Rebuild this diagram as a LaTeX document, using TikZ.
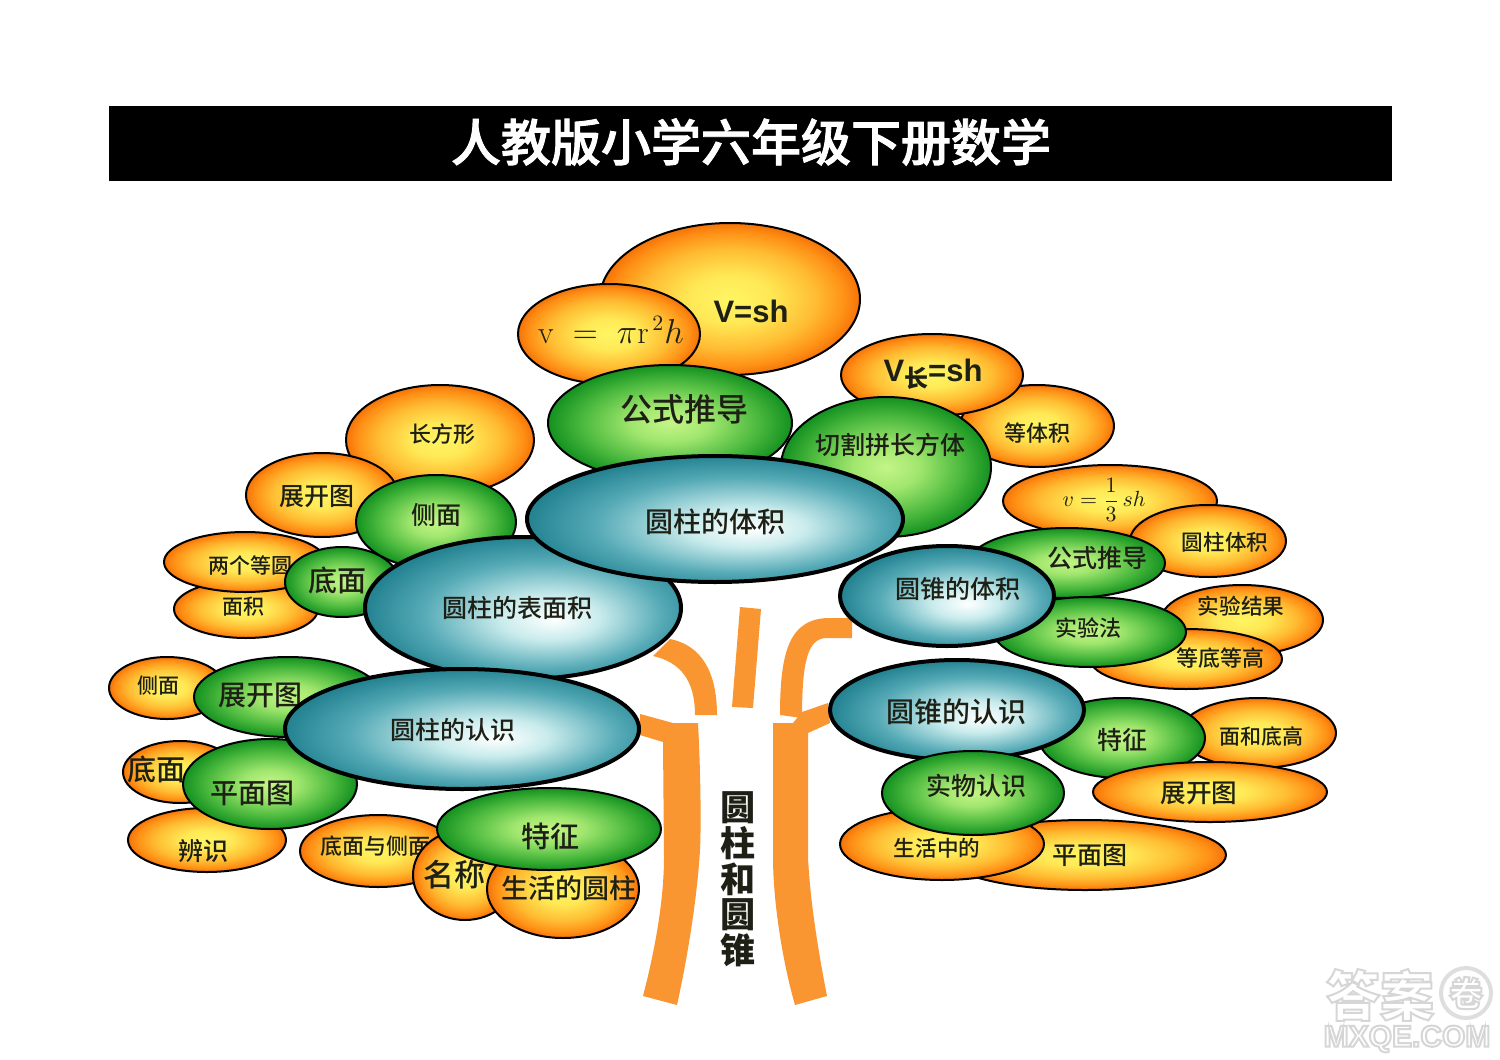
\documentclass[tikz,border=0pt]{standalone}
\usepackage{fontspec}
\usetikzlibrary{shapes.geometric,shadings}
\newfontfamily\cjk{Noto Sans CJK SC Medium}
\newfontfamily\cjkb{Noto Sans CJK SC}
\newfontfamily\lat{Liberation Sans}
\definecolor{grnA}{RGB}{196,245,135}
\definecolor{grnB}{RGB}{160,230,110}
\definecolor{grnC}{RGB}{75,185,62}
\definecolor{grnD}{RGB}{20,145,32}
\definecolor{tealA}{RGB}{200,235,236}
\definecolor{tealB}{RGB}{85,170,182}
\definecolor{tealC}{RGB}{25,122,137}
\definecolor{orgA}{RGB}{255,245,100}
\definecolor{orgB}{RGB}{255,232,85}
\definecolor{orgC}{RGB}{255,188,50}
\definecolor{orgD}{RGB}{255,145,22}
\definecolor{orgE}{RGB}{245,115,8}
\definecolor{trunk}{RGB}{250,150,50}
\definecolor{ink}{RGB}{30,32,22}
\definecolor{wmline}{RGB}{222,222,222}
\pgfdeclareradialshading{orangeball}{\pgfpoint{0bp}{0bp}}{color(0bp)=(orgA); color(8bp)=(orgB); color(16.5bp)=(orgC); color(22bp)=(orgD); color(25bp)=(orgE); color(50bp)=(orgE)}
\pgfdeclareradialshading{greenball}{\pgfpoint{0bp}{0bp}}{color(0bp)=(grnA); color(8bp)=(grnB); color(18bp)=(grnC); color(25bp)=(grnD); color(50bp)=(grnD)}
\pgfdeclareradialshading{tealball}{\pgfpoint{5bp}{-4bp}}{color(0bp)=(white); color(8bp)=(tealA); color(19bp)=(tealB); color(29bp)=(tealC); color(50bp)=(tealC)}
\tikzset{
  leafbase/.style={ellipse,inner sep=0pt,outer sep=0pt,draw=black},
  orangeleaf/.style={leafbase,shading=orangeball,line width=1pt},
  greenleaf/.style={leafbase,shading=greenball,line width=1pt},
  tealleaf/.style={leafbase,shading=tealball,line width=2pt},
  leaflabel/.style={inner sep=0pt,text=ink,font=\cjk},
  trunkfill/.style={fill=trunk,draw=none},
  wmark/.style={inner sep=0pt,text=white,font=\cjkb\bfseries}
}
% name, cx, cy, rx, ry, style, lx, ly, size(pt), text
\newcommand{\leafnode}[9]{\node[#6leaf,minimum width=#4pt,minimum height=#5pt] (#1) at (#2,#3) {};\leaftextb{#1}{#7}{#8}{#9}}
\newcommand{\leaftextb}[5]{\node[leaflabel] (#1t) at (#2,#3) {\fontsize{#4}{#4}\selectfont #5};}
\newcommand{\wmtext}[5]{\node[wmark] (#1) at (#2,#3) {\fontsize{#4}{#4}\selectfont\special{pdf:code 2 Tr 1 w 0.84 0.84 0.84 RG}#5\special{pdf:code 0 Tr}};}
\begin{document}
\begin{tikzpicture}[x=0.5pt,y=-0.5pt]
\useasboundingbox (0,0) rectangle (1500,1060);
\fill[white] (0,0) rectangle (1500,1060);
% title bar
\node[fill=black,minimum width=641.5pt,minimum height=37.5pt,inner sep=0pt,outer sep=0pt] (bar) at (750.5,143.5) {};
\node[inner sep=0pt,text=white,font=\cjk] (title) at (751,142) {\fontsize{25}{25}\selectfont\special{pdf:code 2 Tr 0.45 w 1 1 1 RG}人教版小学六年级下册数学\special{pdf:code 0 Tr}};
% trunk
\path[trunkfill] (673,723) -- (698,723) .. controls (701,780) and (701,830) .. (700,850) .. controls (697,900) and (687,960) .. (677,1005) -- (643,996) .. controls (655,950) and (664,900) .. (664,857) -- (663,742) -- (640,735) -- (640,714) -- cycle;
\path[trunkfill] (653,656) -- (670,639) .. controls (700,645) and (717,670) .. (717,715) -- (695,715) .. controls (695,680) and (680,662) .. (653,656) -- cycle;
\path[trunkfill] (740,607) -- (761,609) -- (753,708) -- (732,707) -- cycle;
\path[trunkfill] (852,618) -- (852,638) -- (825,638) .. controls (808,640) and (802,660) .. (802,718) -- (780,715) .. controls (780,650) and (790,618) .. (830,618) -- cycle;
\path[trunkfill] (773,723) -- (793,723) -- (802,712) -- (828,703) -- (830,723) -- (808,733) -- (808,857) .. controls (810,900) and (818,950) .. (827,996) -- (795,1005) .. controls (782,960) and (773,900) .. (773,857) -- cycle;
\node[inner sep=0pt,text=ink,font=\cjkb\bfseries,align=center] (stem) at (738,879) {\fontsize{17.5}{18}\selectfont 圆\\[0.4pt]\fontsize{17.5}{18}\selectfont 柱\\[0.4pt]\fontsize{17.5}{18}\selectfont 和\\[0.4pt]\fontsize{17.5}{18}\selectfont 圆\\[0.4pt]\fontsize{17.5}{18}\selectfont 锥};
% top
\leafnode{vsh}{730}{299}{130}{76}{orange}{751}{311}{15.5}{\lat\bfseries V=sh}
\leafnode{vpi}{609}{334}{91}{50}{orange}{611}{330}{16}{$\mathrm{v}\;=\;\pi\mathrm{r}^{\,2}h$}
\leafnode{gs}{670}{423}{122}{58}{green}{684}{409}{16}{公式推导}
% upper right
\leafnode{dtj}{1037}{426}{77}{41}{orange}{1037}{433}{11}{等体积}
\leafnode{vc}{932}{375}{91}{41}{orange}{933}{374}{15.5}{\lat\bfseries V\raisebox{-3pt}{\cjk\fontsize{12}{12}\selectfont 长}=sh}
\leafnode{qg}{886}{467}{105}{70}{green}{890}{445}{12.5}{切割拼长方体}
% upper left
\leafnode{cfx}{440}{440}{94}{55}{orange}{442}{434}{11}{长方形}
\leafnode{zk}{322}{495}{76}{42}{orange}{317}{497}{12.5}{展开图}
\leafnode{cm}{436}{522}{80}{47}{green}{436}{515}{12.5}{侧面}
\leafnode{mj}{246}{609}{72}{29}{orange}{243}{607}{10.5}{面积}
\leafnode{ld}{245}{562}{81}{30}{orange}{250}{565}{10.5}{两个等圆}
\leafnode{dm}{342}{582}{57}{35}{green}{337}{580}{14.5}{底面}
\leafnode{bmj}{523}{608}{158}{71}{teal}{517}{608}{12.5}{圆柱的表面积}
% lower left
\leafnode{lcm}{167}{688}{58}{31}{orange}{158}{686}{10.5}{侧面}
\leafnode{lzk}{288}{697}{94}{40}{green}{260}{695}{14}{展开图}
\leafnode{ldm}{180}{772}{57}{31}{orange}{156}{769}{14.5}{底面}
\leafnode{bs}{207}{840}{79}{32}{orange}{203}{851}{12.5}{辨识}
\leafnode{pm}{270}{784}{87}{45}{green}{252}{793}{14}{平面图}
\leafnode{rs}{462}{729}{177}{60}{teal}{453}{730}{12.5}{圆柱的认识}
\leafnode{dy}{378}{851}{78}{36}{orange}{375}{846}{11}{底面与侧面}
\leafnode{mc}{465}{875}{52}{45}{orange}{454}{875}{15.5}{名称}
\leafnode{sh}{563}{889}{76}{49}{orange}{569}{888}{13.5}{生活的圆柱}
\leafnode{tz}{549}{829}{112}{41}{green}{550}{836}{14.5}{特征}
% volume
\leafnode{tj}{715}{519}{188}{63}{teal}{715}{522}{14}{圆柱的体积}
% right upper
\leafnode{fs}{1110}{501}{107}{36}{orange}{1104}{500}{11}{$\displaystyle v={1\over 3}\,sh$}
\leafnode{yzt}{1208}{541}{78}{36}{orange}{1225}{542}{10.8}{圆柱体积}
\leafnode{rgs}{1067}{563}{98}{35}{green}{1097}{558}{12.5}{公式推导}
\leafnode{sjg}{1242}{620}{81}{35}{orange}{1241}{606}{10.8}{实验结果}
\leafnode{ddg}{1186}{659}{96}{30}{orange}{1220}{658}{11}{等底等高}
\leafnode{syf}{1090}{632}{96}{35}{green}{1088}{628}{11}{实验法}
\leafnode{ztj}{947}{596}{107}{50}{teal}{958}{589}{12.5}{圆锥的体积}
% right lower
\leafnode{mhd}{1258}{733}{78}{35}{orange}{1261}{737}{10.5}{面和底高}
\leafnode{rtz}{1122}{738}{83}{40}{green}{1122}{740}{12.5}{特征}
\leafnode{rzk}{1210}{792}{117}{30}{orange}{1199}{793}{12.8}{展开图}
\leafnode{zrs}{957}{710}{127}{50}{teal}{956}{712}{14}{圆锥的认识}
\leafnode{rpm}{1085}{855}{141}{35}{orange}{1090}{856}{12.5}{平面图}
\leafnode{shz}{942}{844}{102}{36}{orange}{937}{848}{10.8}{生活中的}
\leafnode{swr}{973}{793}{91}{42}{green}{976}{786}{12.5}{实物认识}
% watermark
\wmtext{wa}{1380}{995}{27}{答案}
\node[circle,draw=wmline,line width=2pt,fill=white,minimum size=25pt,inner sep=0pt] (wc) at (1466,993) {};
\wmtext{wb}{1466}{993}{17}{卷}
\wmtext{wd}{1407}{1039}{15}{\lat\bfseries MXQE.COM}
\end{tikzpicture}
\end{document}
